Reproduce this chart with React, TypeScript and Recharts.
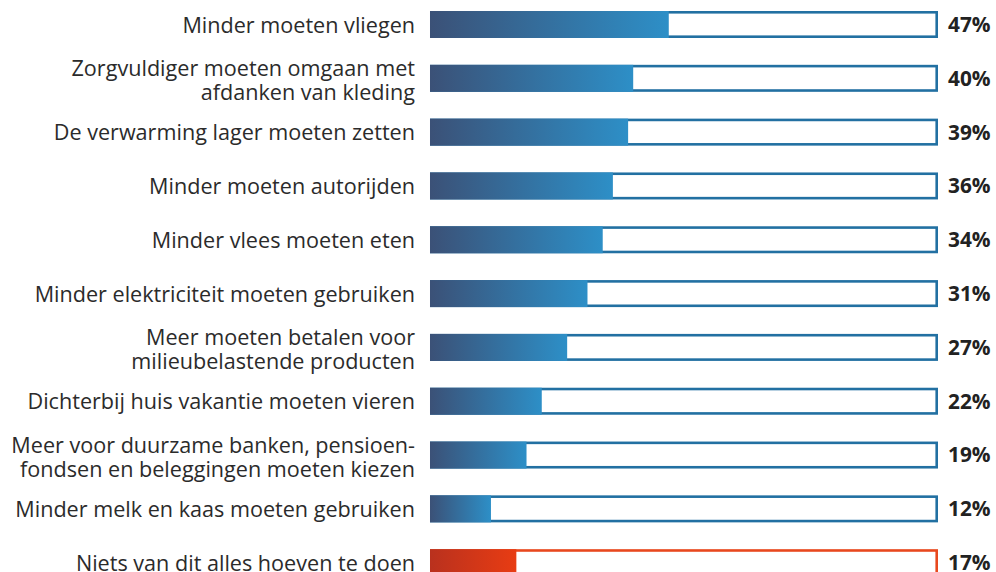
import React from 'react';
import { BarChart, Bar, XAxis, YAxis, LabelList } from 'recharts';

const categories = [
  'Minder moeten vliegen',
  'Zorgvuldiger moeten omgaan met\nafdanken van kleding',
  'De verwarming lager moeten zetten',
  'Minder moeten autorijden',
  'Minder vlees moeten eten',
  'Minder elektriciteit moeten gebruiken',
  'Meer moeten betalen voor\nmilieubelastende producten',
  'Dichterbij huis vakantie moeten vieren',
  'Meer voor duurzame banken, pensioen-\nfondsen en beleggingen moeten kiezen',
  'Minder melk en kaas moeten gebruiken',
  'Niets van dit alles hoeven te doen',
];

const values = [47, 40, 39, 36, 34, 31, 27, 22, 19, 12, 17];

// the last row is the "nothing" answer, drawn in orange
const highlight = [false, false, false, false, false, false, false, false, false, false, true];

const data = categories.map((name, i) => ({ name, value: values[i], alt: highlight[i] }));

const FONT = '"Open Sans", sans-serif';

const CategoryTick = (props: any) => {
  const { x, y, payload } = props;
  const lines = String(payload.value).split('\n');
  const lh = 24;
  const n = lines.length;
  const base = y + 7.8 + (n > 1 ? 1.5 : 0) - ((n - 1) * lh) / 2;
  return (
    <text x={x} y={base} textAnchor="end" fill="#2b2b2b" fontSize={21.6} fontFamily={FONT}>
      {lines.map((l, i) => (
        <tspan key={i} x={x} y={base + i * lh}>{l}</tspan>
      ))}
    </text>
  );
};

const BarShape = (props: any) => {
  const { x, y, width, height, payload } = props;
  const full = payload.value > 0 ? (width * 100) / payload.value : 0;
  const sw = 2.6;
  return (
    <g>
      <rect x={x + sw / 2} y={y + sw / 2} width={full - sw} height={height - sw}
        fill="#ffffff" stroke={payload.alt ? '#e8481e' : '#2270a2'} strokeWidth={sw} />
      <rect x={x} y={y} width={width} height={height}
        fill={payload.alt ? 'url(#redGrad)' : 'url(#blueGrad)'} />
    </g>
  );
};

const ValueLabel = (props: any) => {
  const { x, y, width, height, value } = props;
  const full = (width * 100) / value;
  return (
    <text x={x + full + 10} y={y + height / 2 + 7.4}
      fill="#222222" fontSize={20.8} fontWeight={700} fontFamily={FONT}>
      {value}%
    </text>
  );
};

export default function App() {
  return (
    <div style={{ position: 'absolute', left: 0, top: -2.5 }}>
      <BarChart width={996} height={592} data={data} layout="vertical"
        margin={{ top: 0, right: 58, bottom: 0, left: 0 }} barSize={27}>
        <defs>
          <linearGradient id="blueGrad" x1="0" y1="0" x2="1" y2="0">
            <stop offset="0%" stopColor="#3b5177" />
            <stop offset="100%" stopColor="#2d8fc7" />
          </linearGradient>
          <linearGradient id="redGrad" x1="0" y1="0" x2="1" y2="0">
            <stop offset="0%" stopColor="#b9311e" />
            <stop offset="100%" stopColor="#e83c13" />
          </linearGradient>
        </defs>
        <XAxis type="number" domain={[0, 100]} hide />
        <YAxis type="category" dataKey="name" width={430} axisLine={false} tickLine={false}
          tick={<CategoryTick />} tickMargin={9} interval={0} />
        <Bar dataKey="value" shape={<BarShape />} isAnimationActive={false}>
          <LabelList dataKey="value" content={<ValueLabel />} />
        </Bar>
      </BarChart>
    </div>
  );
}
